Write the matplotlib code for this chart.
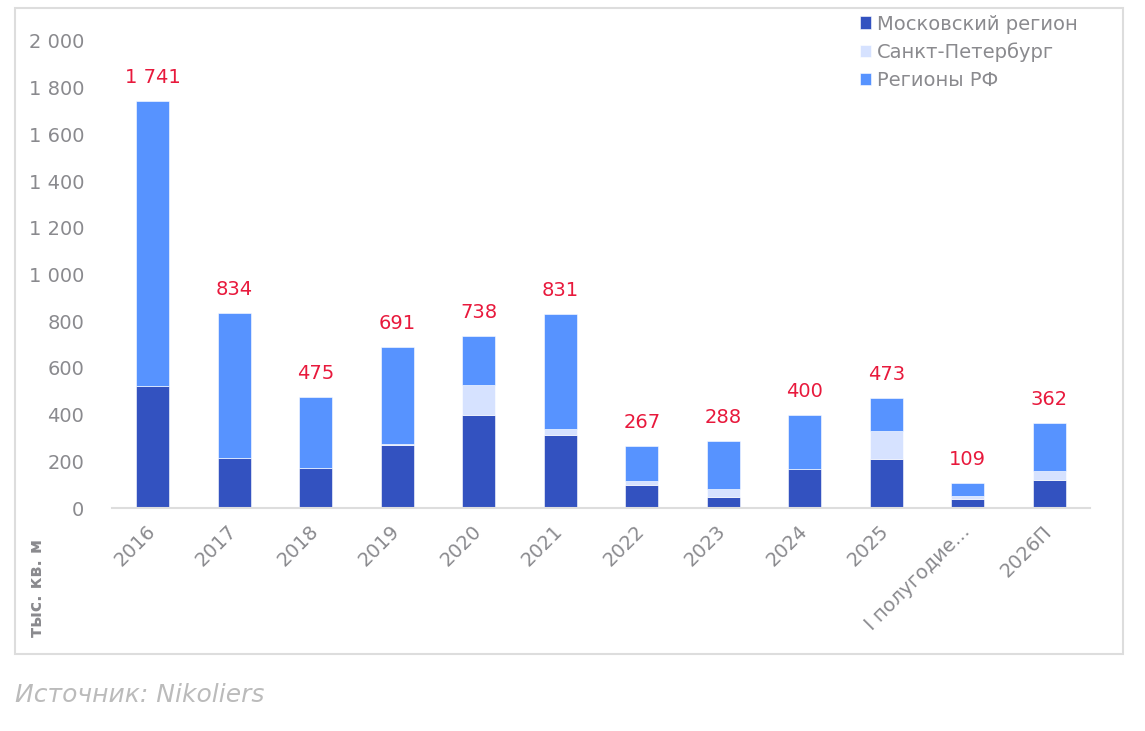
import matplotlib
matplotlib.use("Agg")
import matplotlib.pyplot as plt
from matplotlib.patches import Rectangle
from matplotlib.ticker import FuncFormatter
from matplotlib.transforms import ScaledTranslation

categories = ["2016", "2017", "2018", "2019", "2020", "2021", "2022", "2023",
              "2024", "2025", "I полугодие...", "2026П"]
totals = [1741, 834, 475, 691, 738, 831, 267, 288, 400, 473, 109, 362]
moscow = [522, 215, 173, 268, 398, 313, 98, 47, 168, 210, 38, 120]
spb = [0, 0, 0, 4, 130, 24, 18, 36, 0, 120, 13, 40]
regions = [t - m - s for t, m, s in zip(totals, moscow, spb)]
yticks = [0, 200, 400, 600, 800, 1000, 1200, 1400, 1600, 1800, 2000]

c_msk = "#3352C0"
c_spb = "#D6E2FF"
c_reg = "#5793FF"
gray = "#8A8A8E"
red = "#E8193C"

plt.rcParams['font.family'] = ['DejaVu Sans']
fig = plt.figure(figsize=(11.45, 7.31), dpi=100)
W, H = 1145, 731
ax = fig.add_axes([112 / W, 1 - 508 / H, (1090 - 112) / W, (508 - 41) / H])

x = list(range(len(categories)))
bw = 0.4
ax.bar(x, moscow, bw, color=c_msk, label="Московский регион", edgecolor="white", linewidth=0.4)
ax.bar(x, spb, bw, bottom=moscow, color=c_spb, label="Санкт-Петербург", edgecolor="white", linewidth=0.4)
bot2 = [m + s for m, s in zip(moscow, spb)]
ax.bar(x, regions, bw, bottom=bot2, color=c_reg, label="Регионы РФ", edgecolor="white", linewidth=0.4)

for xi, t in zip(x, totals):
    ax.text(xi, t + 60, f"{t:,}".replace(",", " "), ha="center", va="bottom",
            color=red, fontsize=14)

ax.set_xlim(-0.5, len(categories) - 0.5)
ax.set_ylim(0, 2000)
ax.set_yticks(yticks)
ax.yaxis.set_major_formatter(FuncFormatter(lambda v, p: f"{int(v):,}".replace(",", " ")))
ax.set_xticks(x)
ax.set_xticklabels(categories, rotation=45, ha="right", rotation_mode="anchor")
ax.tick_params(axis="both", length=0, colors=gray, labelsize=14)
ax.tick_params(axis="y", pad=20)
ax.tick_params(axis="x", pad=10)
shift = ScaledTranslation(-7 / 100, 0, fig.dpi_scale_trans)
for lbl in ax.get_xticklabels():
    lbl.set_transform(lbl.get_transform() + shift)
for s in ["top", "right", "left"]:
    ax.spines[s].set_visible(False)
ax.spines["bottom"].set_color("#DDDDDD")
ax.spines["bottom"].set_linewidth(1.5)

leg = fig.legend(loc="upper left", bbox_to_anchor=(842 / W, 1 + 3 / H), frameon=False,
                 fontsize=14, handlelength=0.6, handleheight=0.6, handletextpad=0.3,
                 labelspacing=0.45, labelcolor=gray)

fig.text(37 / W, 1 - 588 / H, "тыс. кв. м", rotation=90, ha="center", va="center",
         color=gray, fontsize=12.5, fontweight="bold")
fig.text(15 / W, 1 - 695 / H, "Источник: Nikoliers", ha="left", va="center",
         color="#BBBBBB", fontsize=18, style="italic")

fig.patches.append(Rectangle((15 / W, 1 - 654 / H), (1123 - 15) / W, (654 - 8) / H,
                             transform=fig.transFigure, fill=False,
                             edgecolor="#DDDDDD", linewidth=1.5))

fig.savefig("out.png", dpi=100)
